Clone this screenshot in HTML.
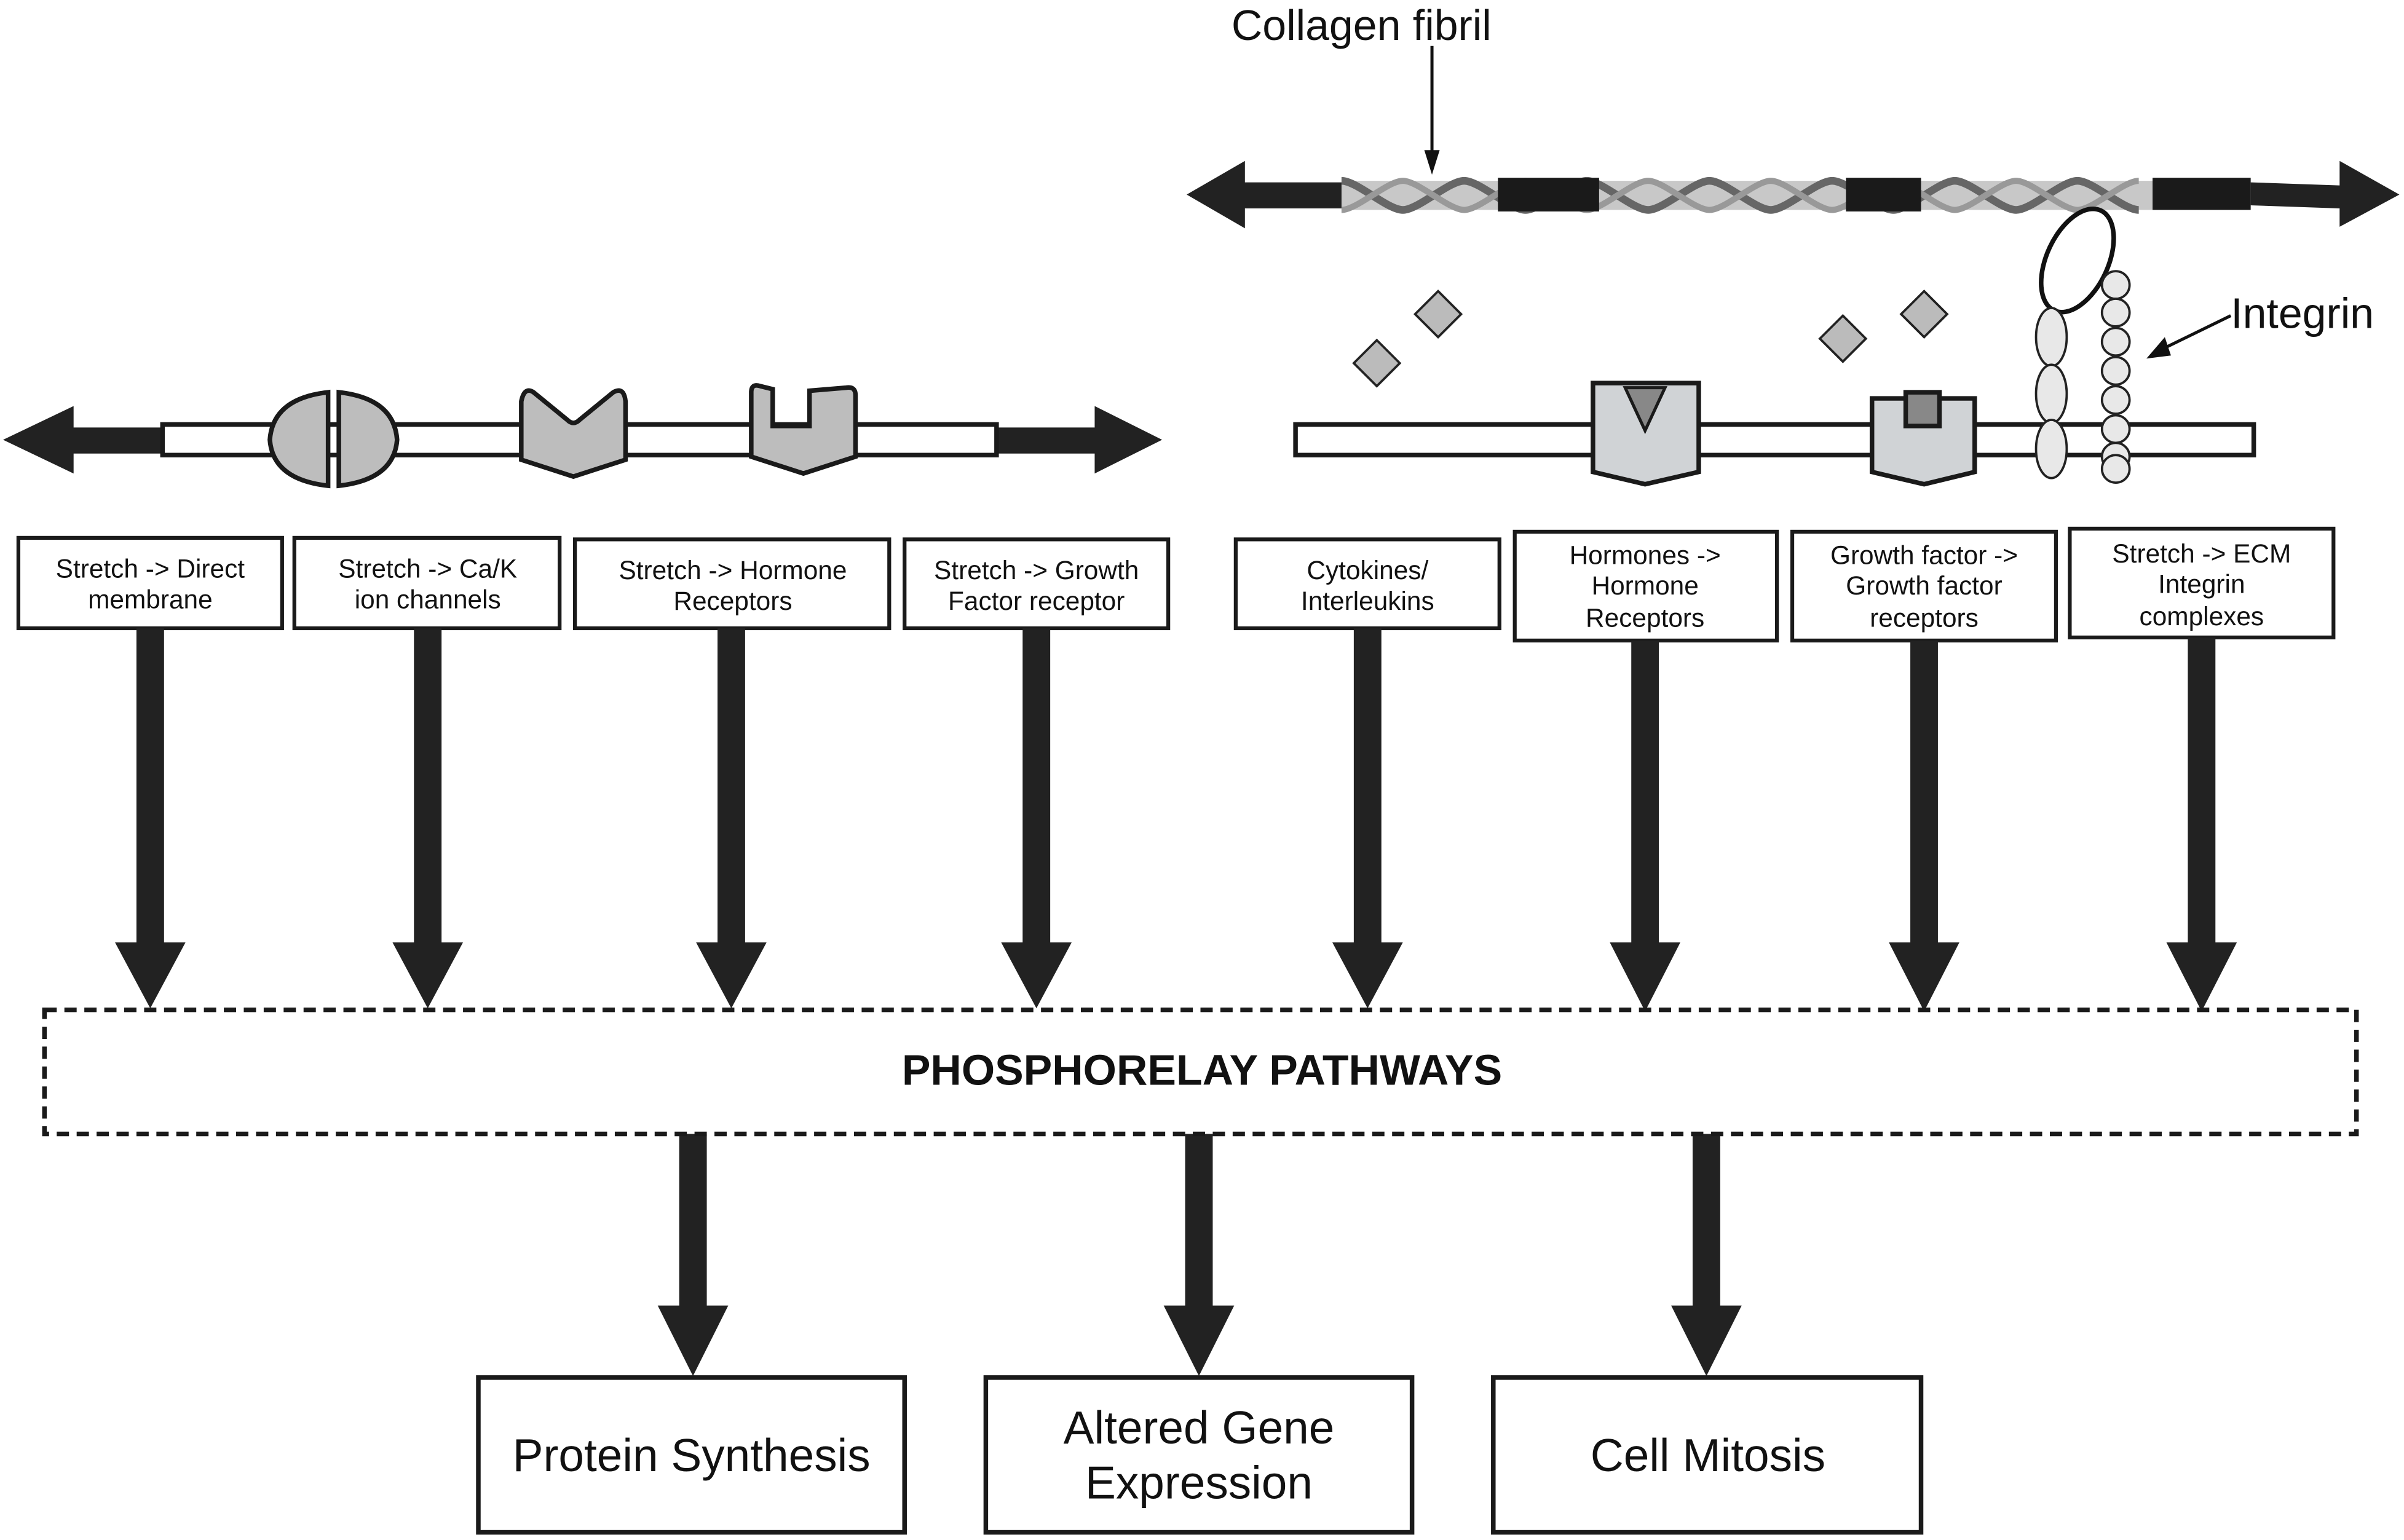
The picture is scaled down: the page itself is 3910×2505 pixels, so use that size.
<!DOCTYPE html>
<html><head><style>html,body{margin:0;padding:0;background:#fff}svg{display:block}</style></head><body>
<svg width="3910" height="2505" viewBox="0 0 1568 1005" preserveAspectRatio="none" xmlns="http://www.w3.org/2000/svg" font-family="Liberation Sans, sans-serif">
<!-- Left membrane -->
<polygon points="2,287 48,265 48,279 106,279 106,296 48,296 48,309" fill="#222"/>
<polygon points="758,287 714,265 714,279 650,279 650,296 714,296 714,309" fill="#222"/>
<rect x="106" y="277" width="544" height="20" fill="#fff" stroke="#1a1a1a" stroke-width="3"/>
<path d="M214,256 Q178,260 176,287 Q178,313 214,317 Z" fill="#bdbdbd" stroke="#1a1a1a" stroke-width="3"/>
<path d="M221,256 Q257,260 259,287 Q257,313 221,317 Z" fill="#bdbdbd" stroke="#1a1a1a" stroke-width="3"/>
<path d="M340,262 Q342,252 348,256 L370,274 Q374,278 378,274 L400,256 Q407,252 408,262 L408,300 L374,311 L340,300 Z" fill="#bdbdbd" stroke="#1a1a1a" stroke-width="3"/>
<path d="M490,256 Q490,250 496,252 L504,254 L504,278 L528,278 L528,255 L552,253 Q558,252 558,258 L558,298 L524,309 L490,298 Z" fill="#bdbdbd" stroke="#1a1a1a" stroke-width="3"/>
<!-- Collagen -->
<polygon points="774,127 812,105 812,119 876,119 876,136 812,136 812,149" fill="#222"/>
<polygon points="1565,127 1526,105 1526,121 1468,119 1468,134 1526,136 1526,148" fill="#222"/>
<rect x="875" y="118" width="530" height="19" fill="#c8c8c8"/>
<path d="M875,118 C885,118 905,137 915,137 C925,137 945,118 955,118 C965,118 985,137 995,137 C1005,137 1025,118 1035,118 C1045,118 1065,137 1075,137 C1085,137 1105,118 1115,118 C1125,118 1145,137 1155,137 C1165,137 1185,118 1195,118 C1205,118 1225,137 1235,137 C1245,137 1265,118 1275,118 C1285,118 1305,137 1315,137 C1325,137 1345,118 1355,118 C1365,118 1385,137 1395,137" fill="none" stroke="#666" stroke-width="5"/>
<path d="M875,137 C885,137 905,118 915,118 C925,118 945,137 955,137 C965,137 985,118 995,118 C1005,118 1025,137 1035,137 C1045,137 1065,118 1075,118 C1085,118 1105,137 1115,137 C1125,137 1145,118 1155,118 C1165,118 1185,137 1195,137 C1205,137 1225,118 1235,118 C1245,118 1265,137 1275,137 C1285,137 1305,118 1315,118 C1325,118 1345,137 1355,137 C1365,137 1385,118 1395,118" fill="none" stroke="#999" stroke-width="4"/>
<rect x="977" y="116" width="66" height="22" fill="#1a1a1a"/>
<rect x="1204" y="116" width="49" height="22" fill="#1a1a1a"/>
<rect x="1404" y="116" width="64" height="21" fill="#1a1a1a"/>
<text x="888" y="26" font-size="28" text-anchor="middle" fill="#111">Collagen fibril</text>
<line x1="934" y1="30" x2="934" y2="100" stroke="#111" stroke-width="2"/>
<polygon points="929,98 939,98 934,114" fill="#111"/>
<!-- Right membrane -->
<rect x="845" y="277" width="625" height="20" fill="#fff" stroke="#1a1a1a" stroke-width="3"/>
<path d="M1039,250 L1108,250 L1108,308 L1073,316 L1039,308 Z" fill="#d0d3d6" stroke="#1a1a1a" stroke-width="3"/>
<polygon points="1060,253 1086,253 1073,281" fill="#888" stroke="#1a1a1a" stroke-width="2"/>
<path d="M1221,260 L1288,260 L1288,308 L1255,316 L1221,308 Z" fill="#d0d3d6" stroke="#1a1a1a" stroke-width="3"/>
<rect x="1243" y="256" width="22" height="22" fill="#888" stroke="#1a1a1a" stroke-width="3"/>
<g fill="#bbb" stroke="#222" stroke-width="1.5">
<polygon points="938,190 953,205 938,220 923,205"/>
<polygon points="898,222 913,237 898,252 883,237"/>
<polygon points="1202,206 1217,221 1202,236 1187,221"/>
<polygon points="1255,190 1270,205 1255,220 1240,205"/>
</g>
<ellipse cx="1355" cy="170" rx="20" ry="36" transform="rotate(25 1355 170)" fill="#fff" stroke="#111" stroke-width="3"/>
<g fill="#e8e8e8" stroke="#222" stroke-width="1.5">
<ellipse cx="1338" cy="220" rx="10" ry="19"/>
<ellipse cx="1338" cy="257" rx="10" ry="19"/>
<ellipse cx="1338" cy="293" rx="10" ry="19"/>
<circle cx="1380" cy="186" r="9"/><circle cx="1380" cy="204" r="9"/><circle cx="1380" cy="223" r="9"/>
<circle cx="1380" cy="242" r="9"/><circle cx="1380" cy="261" r="9"/><circle cx="1380" cy="280" r="9"/>
<circle cx="1380" cy="298" r="9"/><circle cx="1380" cy="306" r="9"/>
</g>
<text x="1455" y="214" font-size="28" fill="#111">Integrin</text>
<line x1="1455" y1="206" x2="1410" y2="228" stroke="#111" stroke-width="2"/>
<polygon points="1400,234 1412,220 1416,232" fill="#111"/>
<!-- Top boxes -->
<g fill="#fff" stroke="#1a1a1a" stroke-width="2.5">
<rect x="12" y="351" width="172" height="59"/>
<rect x="192" y="351" width="173" height="59"/>
<rect x="375" y="352" width="205" height="58"/>
<rect x="590" y="352" width="172" height="58"/>
<rect x="806" y="352" width="172" height="58"/>
<rect x="988" y="347" width="171" height="71"/>
<rect x="1169" y="347" width="172" height="71"/>
<rect x="1350" y="345" width="172" height="71"/>
</g>
<g font-size="17" text-anchor="middle" fill="#111">
<text x="98" y="377">Stretch -&gt; Direct</text><text x="98" y="397">membrane</text>
<text x="279" y="377">Stretch -&gt; Ca/K</text><text x="279" y="397">ion channels</text>
<text x="478" y="378">Stretch -&gt; Hormone</text><text x="478" y="398">Receptors</text>
<text x="676" y="378">Stretch -&gt; Growth</text><text x="676" y="398">Factor receptor</text>
<text x="892" y="378">Cytokines/</text><text x="892" y="398">Interleukins</text>
<text x="1073" y="368">Hormones -&gt;</text><text x="1073" y="388">Hormone</text><text x="1073" y="409">Receptors</text>
<text x="1255" y="368">Growth factor -&gt;</text><text x="1255" y="388">Growth factor</text><text x="1255" y="409">receptors</text>
<text x="1436" y="367">Stretch -&gt; ECM</text><text x="1436" y="387">Integrin</text><text x="1436" y="408">complexes</text>
</g>
<!-- Down arrows -->
<g fill="#222">
<rect x="89" y="410" width="18" height="208"/><polygon points="75,615 121,615 98,658"/>
<rect x="270" y="410" width="18" height="208"/><polygon points="256,615 302,615 279,658"/>
<rect x="468" y="410" width="18" height="208"/><polygon points="454,615 500,615 477,658"/>
<rect x="667" y="410" width="18" height="208"/><polygon points="653,615 699,615 676,658"/>
<rect x="883" y="410" width="18" height="208"/><polygon points="869,615 915,615 892,658"/>
<rect x="1064" y="418" width="18" height="200"/><polygon points="1050,615 1096,615 1073,660"/>
<rect x="1246" y="418" width="18" height="200"/><polygon points="1232,615 1278,615 1255,660"/>
<rect x="1427" y="416" width="18" height="202"/><polygon points="1413,615 1459,615 1436,660"/>
<rect x="443" y="740" width="18" height="114"/><polygon points="429,852 475,852 452,898"/>
<rect x="773" y="740" width="18" height="114"/><polygon points="759,852 805,852 782,898"/>
<rect x="1104" y="740" width="18" height="114"/><polygon points="1090,852 1136,852 1113,898"/>
</g>
<rect x="29" y="659" width="1508" height="81" fill="none" stroke="#1a1a1a" stroke-width="3" stroke-dasharray="8,5"/>
<text x="784" y="708" font-size="28" font-weight="bold" text-anchor="middle" fill="#111">PHOSPHORELAY PATHWAYS</text>
<g fill="#fff" stroke="#1a1a1a" stroke-width="3">
<rect x="312" y="899" width="278" height="101"/>
<rect x="643" y="899" width="278" height="101"/>
<rect x="974" y="899" width="279" height="101"/>
</g>
<g font-size="30" text-anchor="middle" fill="#111">
<text x="451" y="960">Protein Synthesis</text>
<text x="782" y="942">Altered Gene</text><text x="782" y="978">Expression</text>
<text x="1114" y="960">Cell Mitosis</text>
</g>
</svg>
</body></html>
